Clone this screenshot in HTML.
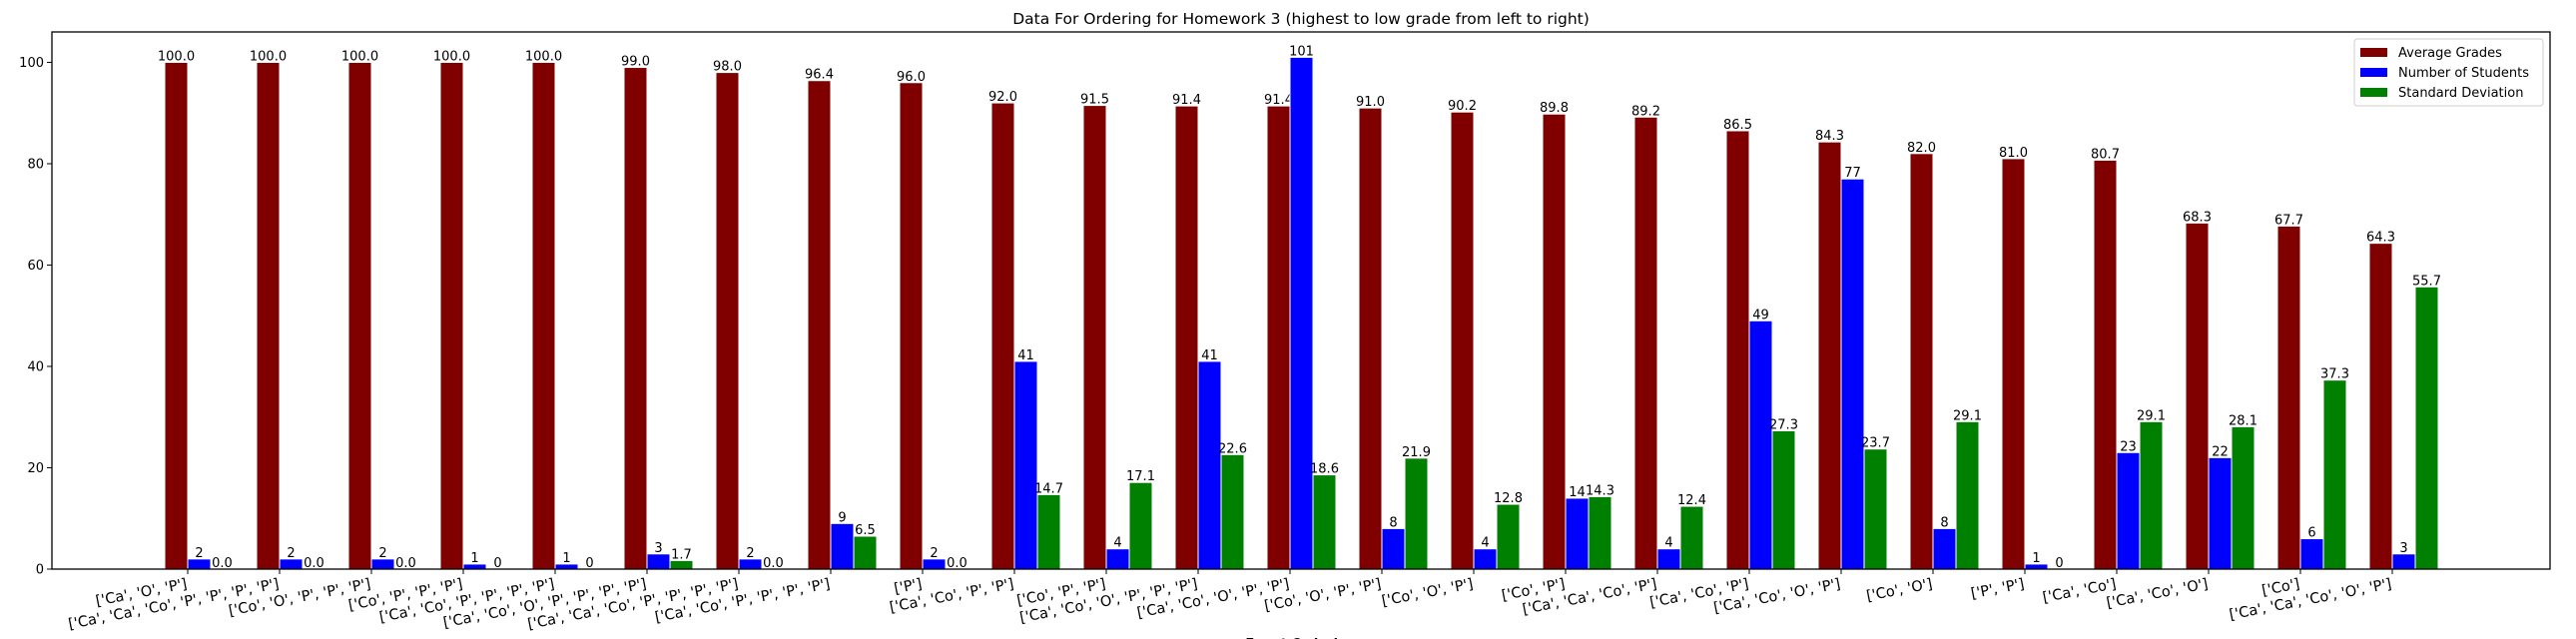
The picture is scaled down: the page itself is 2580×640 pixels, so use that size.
<!DOCTYPE html>
<html><head><meta charset="utf-8"><style>
html,body{margin:0;padding:0;background:#fff;}
svg{display:block;font-family:"DejaVu Sans","Liberation Sans",sans-serif;}
</style></head><body>
<svg id="chart" width="2580" height="640" viewBox="0 0 2580 640" xmlns="http://www.w3.org/2000/svg">
<rect x="0" y="0" width="2580" height="640" fill="#fff"/>
<text x="1303" y="24" font-size="15.5" text-anchor="middle">Data For Ordering for Homework 3 (highest to low grade from left to right)</text>
<g id="bars"></g>
<g id="axes"></g>
<text x="1303" y="649" font-size="13" font-weight="bold" text-anchor="middle">Event Ordering</text>
<g>
<rect x="2358" y="39" width="189" height="67" rx="3" fill="#fff" fill-opacity="0.8" stroke="#ccc"/>
<rect x="2364" y="48" width="27" height="9" fill="#800000"/>
<text x="2402" y="57" font-size="13">Average Grades</text>
<rect x="2364" y="68" width="27" height="9" fill="#0000ff"/>
<text x="2402" y="77" font-size="13">Number of Students</text>
<rect x="2364" y="88" width="27" height="9" fill="#008000"/>
<text x="2402" y="97" font-size="13">Standard Deviation</text>
</g>
</svg>
<script>
const categories = ["['Ca', 'O', 'P']","['Ca', 'Ca', 'Co', 'P', 'P', 'P', 'P']","['Co', 'O', 'P', 'P', 'P']","['Co', 'P', 'P', 'P']","['Ca', 'Co', 'P', 'P', 'P', 'P']","['Ca', 'Co', 'O', 'P', 'P', 'P', 'P']","['Ca', 'Ca', 'Co', 'P', 'P', 'P', 'P']","['Ca', 'Co', 'P', 'P', 'P', 'P']","['P']","['Ca', 'Co', 'P', 'P']","['Co', 'P', 'P']","['Ca', 'Co', 'O', 'P', 'P', 'P']","['Ca', 'Co', 'O', 'P', 'P']","['Co', 'O', 'P', 'P']","['Co', 'O', 'P']","['Co', 'P']","['Ca', 'Ca', 'Co', 'P']","['Ca', 'Co', 'P']","['Ca', 'Co', 'O', 'P']","['Co', 'O']","['P', 'P']","['Ca', 'Co']","['Ca', 'Co', 'O']","['Co']","['Ca', 'Ca', 'Co', 'O', 'P']"];
const averageGrades = [100,100,100,100,100,99,98,96.4,96,92,91.5,91.4,91.4,91,90.2,89.8,89.2,86.5,84.3,82,81,80.7,68.3,67.7,64.3];
const numStudents = [2,2,2,1,1,3,2,9,2,41,4,41,101,8,4,14,4,49,77,8,1,23,22,6,3];
const stdDev = [0,0,0,0,0,1.7,0,6.5,0,14.7,17.1,22.6,18.6,21.9,12.8,14.3,12.4,27.3,23.7,29.1,0,29.1,28.1,37.3,55.7];
const stdDevLabels = ["0.0","0.0","0.0","0","0","1.7","0.0","6.5","0.0","14.7","17.1","22.6","18.6","21.9","12.8","14.3","12.4","27.3","23.7","29.1","0","29.1","28.1","37.3","55.7"];
const yTicks = [0,20,40,60,80,100];

const NS="http://www.w3.org/2000/svg";
const L=52,R=2554,T=32,B=570;
const yMax=106;
function yScale(v){return B-(v/yMax)*(B-T);}
function xScale(i){return 188+92*i;}
const bw=23;
function mk(tag,attrs,parent){const e=document.createElementNS(NS,tag);for(const k in attrs)e.setAttribute(k,attrs[k]);parent.appendChild(e);return e;}
const bars=document.getElementById('bars');
const axes=document.getElementById('axes');
const series=[[averageGrades,'#800000',-1,'avg',v=>v.toFixed(1)],[numStudents,'#0000ff',0,'students',v=>String(v)],[stdDev,'#008000',1,'stddev',null]];
series.forEach(([vals,color,off,nm,fmt])=>{
  vals.forEach((v,i)=>{
    const x0=xScale(i)+off*bw-(off===-1?0:0)+(off===-1?0:0);
    const r=mk('rect',{x:x0,y:yScale(v),width:bw,height:B-yScale(v),fill:color,stroke:'#fff','stroke-width':1},bars);
    
    
    const t=mk('text',{x:x0+bw/2,y:yScale(v)-2,'font-size':13,'text-anchor':'middle'},bars);
    t.textContent=fmt?fmt(v):stdDevLabels[i];
    
    
  });
});
mk('rect',{x:L,y:T,width:R-L,height:B-T,fill:'none',stroke:'#000','stroke-width':1.3},axes);
yTicks.forEach(v=>{
  const y=yScale(v);
  mk('line',{x1:L-5,x2:L,y1:y,y2:y,stroke:'#000'},axes);
  const t=mk('text',{x:L-8,y:y+4.5,'font-size':13,'text-anchor':'end'},axes);
  t.textContent=v;
  
  
});
categories.forEach((c,i)=>{
  const x=xScale(i);
  mk('line',{x1:x,x2:x,y1:B,y2:B+5,stroke:'#000'},axes);
  const t=mk('text',{transform:'translate('+x+','+(B+19)+') rotate(-11)','font-size':14.5,'text-anchor':'end'},axes);
  t.textContent=c;
  
  
});
</script>
</body></html>
